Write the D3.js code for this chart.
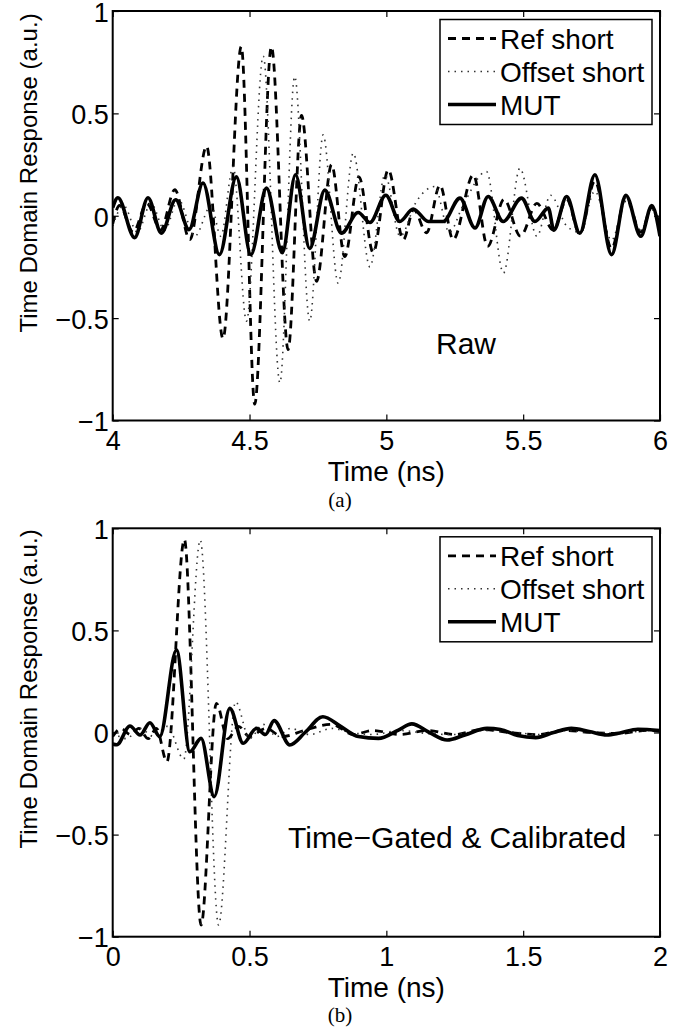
<!DOCTYPE html>
<html><head><meta charset="utf-8">
<script src="https://cdn.jsdelivr.net/npm/d3@7"></script>
<style>
body{margin:0;background:#fff}
svg{display:block}
text{font-family:"Liberation Sans",Arial,Helvetica,sans-serif;fill:#000}
</style>
</head><body>
<svg id="c" width="694" height="1027"></svg>
<script>
// ---------- data ----------
const seriesNames = ["Ref short", "Offset short", "MUT"];
const yTicks = [-1, -0.5, 0, 0.5, 1];
const xTicksRaw = [4, 4.5, 5, 5.5, 6];
const xTicksCal = [0, 0.5, 1, 1.5, 2];

// (a) Raw, time in ns, response in a.u.
const rawRef = [[4.000,-0.04],[4.025,0.05],[4.075,-0.08],[4.125,0.06],[4.175,-0.07],[4.227,0.127],[4.282,-0.117],[4.343,0.34],[4.403,-0.60],[4.470,0.826],[4.519,-0.92],[4.580,0.826],[4.641,-0.654],[4.690,0.49],[4.745,-0.32],[4.800,0.25],[4.848,-0.20],[4.900,0.19],[4.952,-0.18],[5.007,0.225],[5.062,-0.117],[5.100,0.03],[5.147,-0.083],[5.196,0.15],[5.244,-0.117],[5.318,0.20],[5.370,-0.15],[5.430,0.08],[5.490,-0.10],[5.550,0.06],[5.610,-0.07],[5.659,0.08],[5.707,-0.09],[5.762,0.17],[5.823,-0.16],[5.875,0.09],[5.930,-0.08],[5.970,0.04],[6.000,-0.05]];
const rawOffset = [[4.000,-0.05],[4.040,0.05],[4.090,-0.08],[4.140,0.06],[4.190,-0.07],[4.240,0.08],[4.300,-0.10],[4.360,0.05],[4.395,-0.10],[4.440,0.24],[4.489,-0.515],[4.550,0.78],[4.611,-0.816],[4.665,0.68],[4.720,-0.515],[4.769,0.395],[4.824,-0.33],[4.879,0.306],[4.940,-0.25],[4.995,0.20],[5.050,-0.10],[5.110,0.07],[5.177,0.143],[5.230,-0.08],[5.280,0.05],[5.366,0.216],[5.428,-0.28],[5.488,0.232],[5.550,-0.10],[5.600,0.10],[5.659,-0.05],[5.707,-0.08],[5.762,0.12],[5.823,-0.12],[5.875,0.07],[5.930,-0.07],[5.970,0.03],[6.000,-0.04]];
const rawMUT = [[4.000,0.04],[4.019,0.088],[4.080,-0.107],[4.129,0.088],[4.178,-0.085],[4.230,0.078],[4.279,-0.068],[4.330,0.16],[4.390,-0.19],[4.452,0.19],[4.505,-0.19],[4.562,0.135],[4.620,-0.18],[4.668,0.20],[4.720,-0.16],[4.775,0.125],[4.836,-0.085],[4.897,0.016],[4.940,-0.033],[4.998,0.10],[5.049,-0.028],[5.098,0.033],[5.153,-0.028],[5.208,-0.028],[5.269,0.086],[5.324,-0.06],[5.372,0.094],[5.427,-0.028],[5.494,0.086],[5.543,-0.028],[5.592,0.037],[5.612,-0.07],[5.659,0.094],[5.707,-0.085],[5.762,0.20],[5.823,-0.19],[5.875,0.10],[5.930,-0.10],[5.970,0.05],[6.000,-0.10]];

// (b) Time-gated & calibrated
const calRef = [[0.000,-0.02],[0.030,0.02],[0.065,-0.01],[0.095,0.02],[0.130,-0.03],[0.160,0.02],[0.198,-0.143],[0.262,0.946],[0.323,-0.943],[0.379,0.143],[0.420,-0.03],[0.460,0.03],[0.500,-0.02],[0.560,0.02],[0.620,-0.02],[0.700,0.01],[0.800,0.04],[0.880,-0.01],[0.950,0.01],[1.050,-0.01],[1.150,0.01],[1.250,-0.01],[1.350,0.015],[1.450,0.0],[1.550,-0.01],[1.650,0.01],[1.750,0.0],[1.850,-0.005],[1.950,0.01],[2.000,0.005]];
const calOffset = [[0.000,0.00],[0.050,-0.03],[0.100,0.02],[0.150,-0.02],[0.200,0.03],[0.260,-0.13],[0.320,0.943],[0.387,-0.943],[0.449,0.15],[0.500,-0.03],[0.550,0.04],[0.600,-0.02],[0.650,0.02],[0.720,-0.01],[0.800,0.02],[0.870,0.0],[0.950,-0.01],[1.050,0.01],[1.150,-0.005],[1.250,-0.01],[1.350,0.01],[1.450,0.005],[1.550,-0.01],[1.650,0.01],[1.750,0.0],[1.850,-0.005],[1.950,0.01],[2.000,0.005]];
const calMUT = [[0.000,-0.056],[0.015,-0.06],[0.063,0.032],[0.100,-0.012],[0.136,0.048],[0.172,-0.02],[0.233,0.404],[0.282,-0.094],[0.323,-0.029],[0.371,-0.314],[0.428,0.118],[0.477,-0.053],[0.525,0.02],[0.558,-0.01],[0.590,0.058],[0.647,-0.061],[0.703,0.0],[0.768,0.077],[0.833,0.03],[0.898,-0.02],[0.971,-0.029],[1.044,0.012],[1.093,0.042],[1.157,0.0],[1.222,-0.037],[1.287,-0.012],[1.368,0.02],[1.417,0.015],[1.480,-0.015],[1.546,-0.025],[1.611,0.0],[1.676,0.02],[1.741,0.005],[1.806,-0.012],[1.854,-0.002],[1.919,0.016],[2.000,0.01]];

// ---------- drawing ----------
const svg = d3.select("#c");
const styles = [
  {stroke:"#000", width:2.8, dash:"8,6"},
  {stroke:"#333", width:1.6, dash:"1.5,5"},
  {stroke:"#000", width:3.6, dash:null}
];

function drawPanel(cfg){
  const g = svg.append("g");
  const x = d3.scaleLinear().domain(cfg.xDomain).range([cfg.left, cfg.right]);
  const y = d3.scaleLinear().domain([-1,1]).range([cfg.bottom, cfg.top]);
  const clipId = "clip" + cfg.id;
  svg.append("clipPath").attr("id", clipId).append("rect")
    .attr("x", cfg.left).attr("y", cfg.top)
    .attr("width", cfg.right-cfg.left).attr("height", cfg.bottom-cfg.top);

  const line = d3.line().x(d=>x(d[0])).y(d=>y(d[1])).curve(d3.curveMonotoneX);
  const lg = g.append("g").attr("clip-path", `url(#${clipId})`);
  cfg.series.forEach((s,i)=>{
    const st = styles[i];
    lg.append("path").datum(s).attr("d", line)
      .attr("fill","none").attr("stroke",st.stroke).attr("stroke-width",st.width)
      .attr("stroke-dasharray", st.dash).attr("stroke-linejoin","round");
  });

  const fmt = d3.format("");
  const tickLen = 6;
  const ax = (gen, tr, labels) => {
    const a = g.append("g").attr("transform", tr).call(gen);
    a.select(".domain").remove();
    a.selectAll(".tick line").attr("stroke","#000").attr("stroke-width",1.2);
    if(!labels) a.selectAll(".tick text").remove();
    else a.selectAll(".tick text").style("font-family",'"Liberation Sans",Arial,sans-serif').attr("fill","#000");
    return a;
  };
  const bx = ax(d3.axisBottom(x).tickValues(cfg.xTicks).tickFormat(fmt).tickSize(-tickLen).tickPadding(10),
     `translate(0,${cfg.bottom})`, true);
  bx.attr("font-size", 27);
  ax(d3.axisTop(x).tickValues(cfg.xTicks).tickSize(-tickLen), `translate(0,${cfg.top})`, false);
  const ly = ax(d3.axisLeft(y).tickValues(yTicks).tickFormat(fmt).tickSize(-tickLen).tickPadding(4),
     `translate(${cfg.left},0)`, true);
  ly.attr("font-size", 27);
  ly.selectAll(".tick text").attr("dy", "0.38em");
  ax(d3.axisRight(y).tickValues(yTicks).tickSize(-tickLen), `translate(${cfg.right},0)`, false);

  g.append("rect").attr("x",cfg.left).attr("y",cfg.top)
    .attr("width",cfg.right-cfg.left).attr("height",cfg.bottom-cfg.top)
    .attr("fill","none").attr("stroke","#000").attr("stroke-width",2);

  // axis titles
  g.append("text").attr("x",(cfg.left+cfg.right)/2).attr("y",cfg.bottom+60)
    .attr("text-anchor","middle").attr("font-size",28).text("Time (ns)");
  g.append("text").attr("transform",`translate(37,${cfg.ylabelY}) rotate(-90)`)
    .attr("text-anchor","middle").attr("font-size",24).text("Time Domain Response (a.u.)");

  // annotation
  g.append("text").attr("x",cfg.noteX).attr("y",cfg.noteY).attr("font-size",30).text(cfg.note);

  // caption
  g.append("text").attr("x",340).attr("y",cfg.capY).attr("text-anchor","middle")
    .style("font-family",'"Liberation Serif","Times New Roman",serif').attr("font-size",21).text(cfg.caption);

  // legend
  const lx = 440, lw = 212, lt = cfg.top + 8.5, lh = 105;
  g.append("rect").attr("x",lx).attr("y",lt).attr("width",lw).attr("height",lh)
    .attr("fill","#fff").attr("stroke","#000").attr("stroke-width",1.5);
  seriesNames.forEach((nm,i)=>{
    const yy = lt + 19 + i*33;
    const st = styles[i];
    g.append("line").attr("x1",448).attr("x2",496).attr("y1",yy).attr("y2",yy)
      .attr("stroke",st.stroke).attr("stroke-width",st.width).attr("stroke-dasharray",st.dash);
    g.append("text").attr("x",500).attr("y",yy+10).attr("font-size",28).text(nm);
  });
}

drawPanel({id:"a", left:112.7, right:660, top:11, bottom:420.5,
  xDomain:[4,6], xTicks:xTicksRaw, series:[rawRef, rawOffset, rawMUT],
  note:"Raw", noteX:436, noteY:354, caption:"(a)", capY:507, ylabelY:173});
drawPanel({id:"b", left:112.7, right:660, top:528.3, bottom:936.7,
  xDomain:[0,2], xTicks:xTicksCal, series:[calRef, calOffset, calMUT],
  note:"Time\u2212Gated & Calibrated", noteX:288, noteY:848, caption:"(b)", capY:1022, ylabelY:689});
</script>
</body></html>
